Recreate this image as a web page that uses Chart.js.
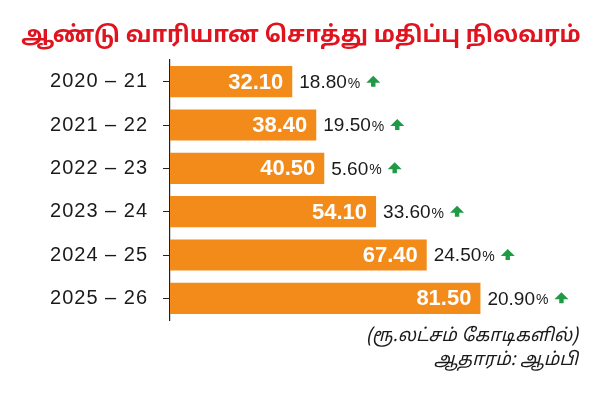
<!DOCTYPE html>
<html>
<head>
<meta charset="utf-8">
<script src="https://cdn.jsdelivr.net/npm/chart.js@4"></script>
<style>
  html, body { margin: 0; padding: 0; background: #fff; }
  #wrap { width: 600px; height: 413px; }
</style>
</head>
<body>
<div id="wrap"><canvas id="assetChart" width="600" height="413"></canvas></div>
<script>
// --- Data ---
const years = ['2020 – 21', '2021 – 22', '2022 – 23', '2023 – 24', '2024 – 25', '2025 – 26'];
const values = [32.10, 38.40, 40.50, 54.10, 67.40, 81.50];
const growth = ['18.80', '19.50', '5.60', '33.60', '24.50', '20.90'];

const titleText = 'ஆண்டு வாரியான சொத்து மதிப்பு நிலவரம்';
const unitText = '(ரூ.லட்சம் கோடிகளில்)';
const sourceText = 'ஆதாரம்: ஆம்பி';

const tamilFont = '"Noto Sans Tamil", "Lohit Tamil", "Latha", "Noto Sans", sans-serif';
const latinFont = '"Liberation Sans", Arial, sans-serif';

const colors = {
  bar: '#f38b1a',
  title: '#e0141e',
  text: '#1a1a1a',
  arrow: '#1f9a45',
};

// wider spacing for the year labels on the axis
const spacingPlugin = {
  id: 'spacingPlugin',
  beforeDraw(chart) { chart.ctx.letterSpacing = '1px'; },
  afterDatasetsDraw(chart) { chart.ctx.letterSpacing = '0px'; },
};

// --- Labels, title and notes drawn on top of the chart ---
const labelPlugin = {
  id: 'labelPlugin',
  afterDraw(chart) {
    const ctx = chart.ctx;
    const meta = chart.getDatasetMeta(0);
    ctx.save();
    ctx.letterSpacing = '0px';
    ctx.textBaseline = 'middle';

    meta.data.forEach((bar, i) => {
      const x = bar.x;
      const y = bar.y;

      // value inside the bar
      ctx.font = 'bold 22px ' + latinFont;
      ctx.fillStyle = '#fff';
      ctx.textAlign = 'right';
      ctx.fillText(values[i].toFixed(2), x - 9, y + 1);

      // growth percent outside
      ctx.textAlign = 'left';
      ctx.fillStyle = colors.text;
      ctx.font = '19px ' + latinFont;
      const px = x + 7;
      ctx.fillText(growth[i], px, y + 1);
      const w1 = ctx.measureText(growth[i]).width;
      ctx.font = '14px ' + latinFont;
      ctx.fillText('%', px + w1 + 1, y + 2);
      const w2 = ctx.measureText('%').width;

      // green up arrow
      const ax = px + w1 + w2 + 14;
      const ay = y;
      ctx.fillStyle = colors.arrow;
      ctx.beginPath();
      ctx.moveTo(ax, ay - 6);
      ctx.lineTo(ax + 7, ay + 1);
      ctx.lineTo(ax + 2.2, ay + 1);
      ctx.lineTo(ax + 2.2, ay + 5);
      ctx.lineTo(ax - 2.2, ay + 5);
      ctx.lineTo(ax - 2.2, ay + 1);
      ctx.lineTo(ax - 7, ay + 1);
      ctx.closePath();
      ctx.fill();
    });

    // title, fitted to the reference width
    ctx.textAlign = 'center';
    ctx.fillStyle = colors.title;
    ctx.font = 'bold 25px ' + tamilFont;
    const tw = ctx.measureText(titleText).width;
    const size = Math.min(25, 25 * 560 / tw);
    ctx.font = 'bold ' + size.toFixed(1) + 'px ' + tamilFont;
    ctx.fillText(titleText, 301, 37);

    // unit and source notes
    ctx.textAlign = 'right';
    ctx.fillStyle = colors.text;
    ctx.font = 'italic 18px ' + tamilFont;
    ctx.fillText(unitText, 578, 337);
    ctx.fillText(sourceText, 578, 361);

    ctx.restore();
  }
};

const ctx = document.getElementById('assetChart').getContext('2d');
const chart = new Chart(ctx, {
  type: 'bar',
  data: {
    labels: years,
    datasets: [{
      data: values,
      backgroundColor: colors.bar,
      borderWidth: 0,
      barPercentage: 0.72,
      categoryPercentage: 1.0,
    }]
  },
  options: {
    indexAxis: 'y',
    responsive: false,
    animation: false,
    layout: { padding: { top: 60, bottom: 93, left: 0, right: 11 } },
    plugins: {
      legend: { display: false },
      title: { display: false },
      tooltip: { enabled: false },
    },
    scales: {
      x: {
        display: false,
        min: 0,
        max: 110,
      },
      y: {
        afterFit(scale) { scale.width = 170; },
        border: { display: true, color: '#222', width: 1.2 },
        grid: {
          display: true,
          drawOnChartArea: false,
          drawTicks: true,
          tickLength: 7,
          color: '#222',
          offset: false,
        },
        ticks: {
          color: colors.text,
          padding: 15,
          font: { family: latinFont, size: 20 },
        },
      }
    }
  },
  plugins: [spacingPlugin, labelPlugin]
});
</script>
</body>
</html>
